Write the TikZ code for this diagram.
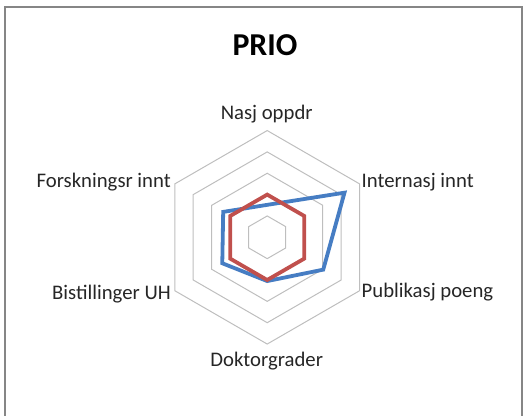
\documentclass[tikz,border=0pt]{standalone}
\usepackage{fontspec}
\setmainfont{Carlito}
\usetikzlibrary{calc}
\definecolor{gridgray}{RGB}{190,190,190}
\definecolor{framegray}{RGB}{134,134,134}
\definecolor{serblue}{RGB}{70,125,195}
\definecolor{serred}{RGB}{192,80,77}
\tikzset{
  gridhex/.style={draw=gridgray, line width=1bp},
  series/.style={line width=3.8bp, line join=miter},
  axislabel/.style={inner sep=0pt, font=\fontsize{20.8}{24}\selectfont, text=black!85},
  titlelabel/.style={inner sep=0pt, font=\fontsize{32}{36}\selectfont\bfseries}
}
\begin{document}
\begin{tikzpicture}[x=1bp,y=1bp]
\useasboundingbox (0,0) rectangle (524,415);
\draw[framegray, line width=1.3bp] (5,-5) -- (5,408) -- (522,408) -- (522,-5);
\coordinate (c) at (267.2,177.7);
\def\u{21.35}
% grid
\foreach \k in {1,...,5}{
  \draw[gridhex] ($(c)+(90:\k*\u)$) -- ($(c)+(30:\k*\u)$) -- ($(c)+(-30:\k*\u)$) -- ($(c)+(-90:\k*\u)$) -- ($(c)+(210:\k*\u)$) -- ($(c)+(150:\k*\u)$) -- cycle;
}
% blue series
\coordinate (b1) at ($(c)+(90:1.52*\u)$);
\coordinate (b2) at ($(c)+(30:4.18*\u)$);
\coordinate (b3) at ($(c)+(-30:3.03*\u)$);
\coordinate (b4) at ($(c)+(-90:2.05*\u)$);
\coordinate (b5) at ($(c)+(210:2.43*\u)$);
\coordinate (b6) at ($(c)+(150:2.38*\u)$);
\draw[series, serblue] (b1) -- (b2) -- (b3) -- (b4) -- (b5) -- (b6) -- cycle;
% red series
\coordinate (r1) at ($(c)+(90:2*\u)$);
\coordinate (r2) at ($(c)+(30:2*\u)$);
\coordinate (r3) at ($(c)+(-30:2*\u)$);
\coordinate (r4) at ($(c)+(-90:2*\u)$);
\coordinate (r5) at ($(c)+(210:2*\u)$);
\coordinate (r6) at ($(c)+(150:2*\u)$);
\draw[series, serred] (r1) -- (r2) -- (r3) -- (r4) -- (r5) -- (r6) -- cycle;
% labels
\node[titlelabel, anchor=base] (title) at (265,359.3) {PRIO};
\node[axislabel, anchor=base] (lnasj) at (266.7,295.7) {Nasj oppdr};
\node[axislabel, anchor=base west] (lint) at (361.5,227.3) {Internasj innt};
\node[axislabel, anchor=base west] (lpub) at (361.5,117.7) {Publikasj poeng};
\node[axislabel, anchor=base] (ldok) at (266.7,49) {Doktorgrader};
\node[axislabel, anchor=base east] (lbis) at (171,115.7) {Bistillinger UH};
\node[axislabel, anchor=base east] (lfor) at (171,227.3) {Forskningsr innt};
\end{tikzpicture}
\end{document}
